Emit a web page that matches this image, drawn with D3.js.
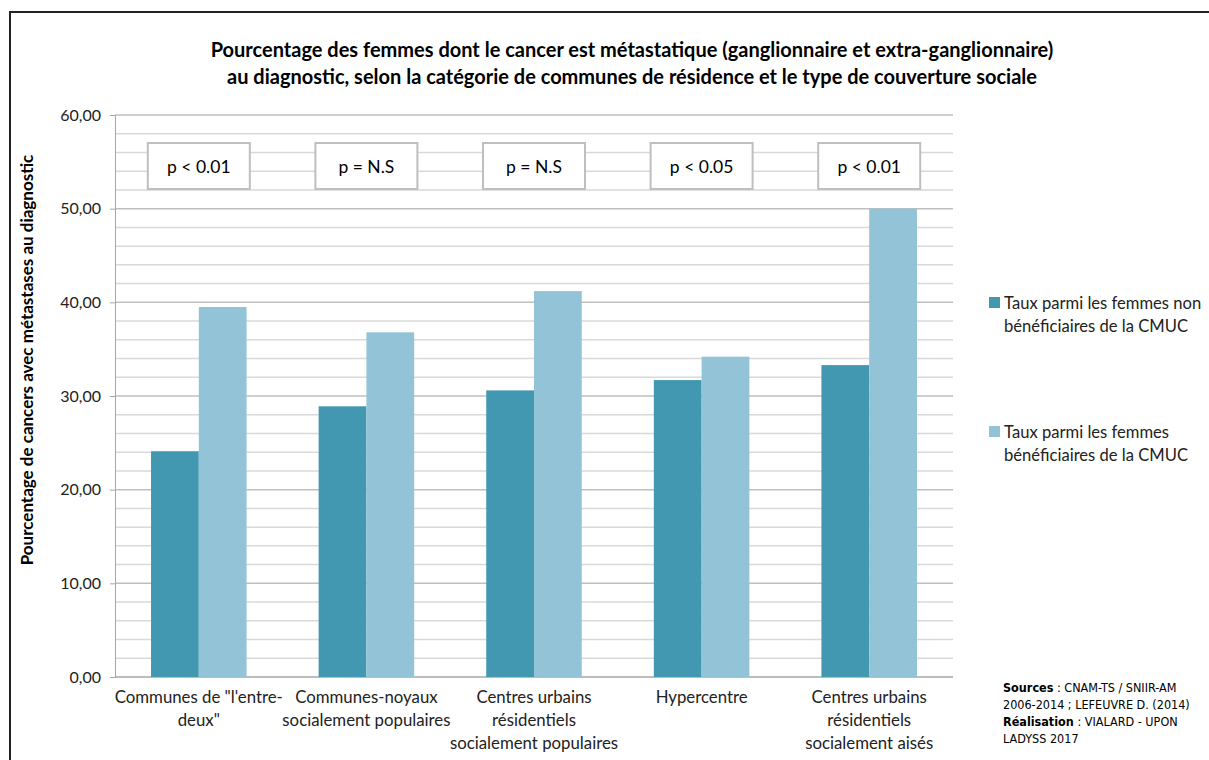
<!DOCTYPE html>
<html>
<head>
<meta charset="utf-8">
<script src="https://cdn.jsdelivr.net/npm/d3@7"></script>
<style>
  body { margin: 0; background: #fff; }
  svg { display: block; font-family: Lato, "Open Sans", sans-serif; }
</style>
</head>
<body>
<script>
"use strict";
const categories = [
    ["Communes de \"l'entre-", "deux\""],
    ["Communes-noyaux", "socialement populaires"],
    ["Centres urbains", "résidentiels", "socialement populaires"],
    ["Hypercentre"],
    ["Centres urbains", "résidentiels", "socialement aisés"]
]
const seriesNames = [
    ["Taux parmi les femmes non", "bénéficiaires de la CMUC"],
    ["Taux parmi les femmes", "bénéficiaires de la CMUC"]
]
const nonBeneficiaires = [24.1, 28.9, 30.6, 31.7, 33.3]
const beneficiaires = [39.5, 36.8, 41.2, 34.2, 50.0]
const pValues = ["p < 0.01", "p = N.S", "p = N.S", "p < 0.05", "p < 0.01"]
const yTicks = [0, 10, 20, 30, 40, 50, 60]

const colors = ["#4398b1", "#93c3d6"]
const width = 1209, height = 760
const plot = { left: 115, right: 953, top: 115, bottom: 677 }

const svg = d3.select("body").append("svg")
    .attr("width", width)
    .attr("height", height)

// outer frame of the chart
svg.append("rect")
    .attr("x", 10).attr("y", 12)
    .attr("width", width).attr("height", height)
    .attr("fill", "none").attr("stroke", "#222").attr("stroke-width", 2)

// title
const title = svg.append("text")
    .attr("text-anchor", "middle")
    .attr("font-weight", "bold")
    .attr("font-size", 20)
    .attr("fill", "#000")
title.append("tspan").attr("x", 632).attr("y", 57)
    .text("Pourcentage des femmes dont le cancer est métastatique (ganglionnaire et extra-ganglionnaire)")
title.append("tspan").attr("x", 632).attr("y", 84)
    .text("au diagnostic, selon la catégorie de communes de résidence et le type de couverture sociale")

const scaleX = d3.scaleBand()
    .domain(d3.range(categories.length))
    .range([plot.left, plot.right])
const scaleY = d3.scaleLinear()
    .domain([0, 60])
    .range([plot.bottom, plot.top])
const barW = scaleX.bandwidth() * 0.285

// minor gridlines every 2
svg.append("g").selectAll("line")
    .data(d3.range(2, 60, 2).filter(v => v % 10 != 0))
    .enter().append("line")
    .attr("x1", plot.left).attr("x2", plot.right)
    .attr("y1", d => scaleY(d)).attr("y2", d => scaleY(d))
    .attr("stroke", "#d9d9d9").attr("stroke-width", 1.5)

// major gridlines
svg.append("g").selectAll("line")
    .data(yTicks.slice(1))
    .enter().append("line")
    .attr("x1", plot.left).attr("x2", plot.right)
    .attr("y1", d => scaleY(d)).attr("y2", d => scaleY(d))
    .attr("stroke", "#bfbfbf").attr("stroke-width", 1.5)

// y axis
const yAxis = d3.axisLeft(scaleY)
    .tickValues(yTicks)
    .tickSize(5)
    .tickPadding(9)
    .tickFormat(d => d3.format(".2f")(d).replace(".", ","))
const gy = svg.append("g")
    .attr("transform", `translate(${plot.left},0)`)
    .call(yAxis)
gy.select(".domain").attr("stroke", "#a6a6a6")
gy.selectAll(".tick line").attr("stroke", "#a6a6a6")
gy.selectAll("text").attr("font-size", 16).attr("fill", "#222")
    .attr("font-family", "Lato, sans-serif")

// x axis baseline
svg.append("line")
    .attr("x1", plot.left).attr("x2", plot.right)
    .attr("y1", plot.bottom).attr("y2", plot.bottom)
    .attr("stroke", "#a6a6a6").attr("stroke-width", 1.5)

// bars
const series = [nonBeneficiaires, beneficiaires]
series.forEach((vals, s) => {
    svg.append("g").selectAll("rect")
        .data(vals)
        .enter().append("rect")
        .attr("x", (d, i) => scaleX(i) + scaleX.bandwidth() / 2 - barW + s * barW)
        .attr("y", d => scaleY(d))
        .attr("width", barW)
        .attr("height", d => scaleY(0) - scaleY(d))
        .attr("fill", colors[s])
})

// p-value boxes
const boxes = svg.append("g").selectAll("g")
    .data(pValues)
    .enter().append("g")
    .attr("transform", (d, i) => `translate(${scaleX(i) + scaleX.bandwidth() / 2},0)`)
boxes.append("rect")
    .attr("x", -51).attr("y", 143)
    .attr("width", 102).attr("height", 46)
    .attr("fill", "#fff").attr("stroke", "#bfbfbf").attr("stroke-width", 2)
boxes.append("text")
    .attr("y", 173)
    .attr("text-anchor", "middle")
    .attr("font-size", 17.5)
    .attr("fill", "#000")
    .text(d => d)

// category labels
const labels = svg.append("g").selectAll("text")
    .data(categories)
    .enter().append("text")
    .attr("text-anchor", "middle")
    .attr("font-size", 16.8)
    .attr("fill", "#222")
labels.selectAll("tspan")
    .data((d, i) => d.map(line => ({ line, i })))
    .enter().append("tspan")
    .attr("x", d => scaleX(d.i) + scaleX.bandwidth() / 2)
    .attr("y", (d, j) => 703 + j * 23)
    .text(d => d.line)

// y axis title
svg.append("text")
    .attr("transform", "translate(33,360) rotate(-90)")
    .attr("text-anchor", "middle")
    .attr("font-weight", "bold")
    .attr("font-size", 17)
    .attr("fill", "#000")
    .text("Pourcentage de cancers avec métastases au diagnostic")

// legend
const legendY = [303, 432]
seriesNames.forEach((lines, s) => {
    svg.append("rect")
        .attr("x", 989).attr("y", legendY[s] - 6)
        .attr("width", 11).attr("height", 11)
        .attr("fill", colors[s])
    const t = svg.append("text")
        .attr("font-size", 16.6).attr("fill", "#222")
    lines.forEach((line, j) => {
        t.append("tspan").attr("x", 1004).attr("y", legendY[s] + 6 + j * 23).text(line)
    })
})

// sources
const src = svg.append("text")
    .attr("font-size", 12.5)
    .attr("fill", "#000")
    .attr("font-family", "'Liberation Sans Narrow', 'DejaVu Sans Condensed', sans-serif")
const srcLines = [
    [["Sources", true], [" : CNAM-TS / SNIIR-AM", false]],
    [["2006-2014 ; LEFEUVRE D. (2014)", false]],
    [["Réalisation", true], [" : VIALARD - UPON", false]],
    [["LADYSS 2017", false]]
]
srcLines.forEach((parts, j) => {
    parts.forEach((p, k) => {
        const ts = src.append("tspan").text(p[0])
            .attr("font-weight", p[1] ? "bold" : "normal")
        if (k == 0) ts.attr("x", 1003).attr("y", 692 + j * 17)
    })
})
</script>
</body>
</html>
